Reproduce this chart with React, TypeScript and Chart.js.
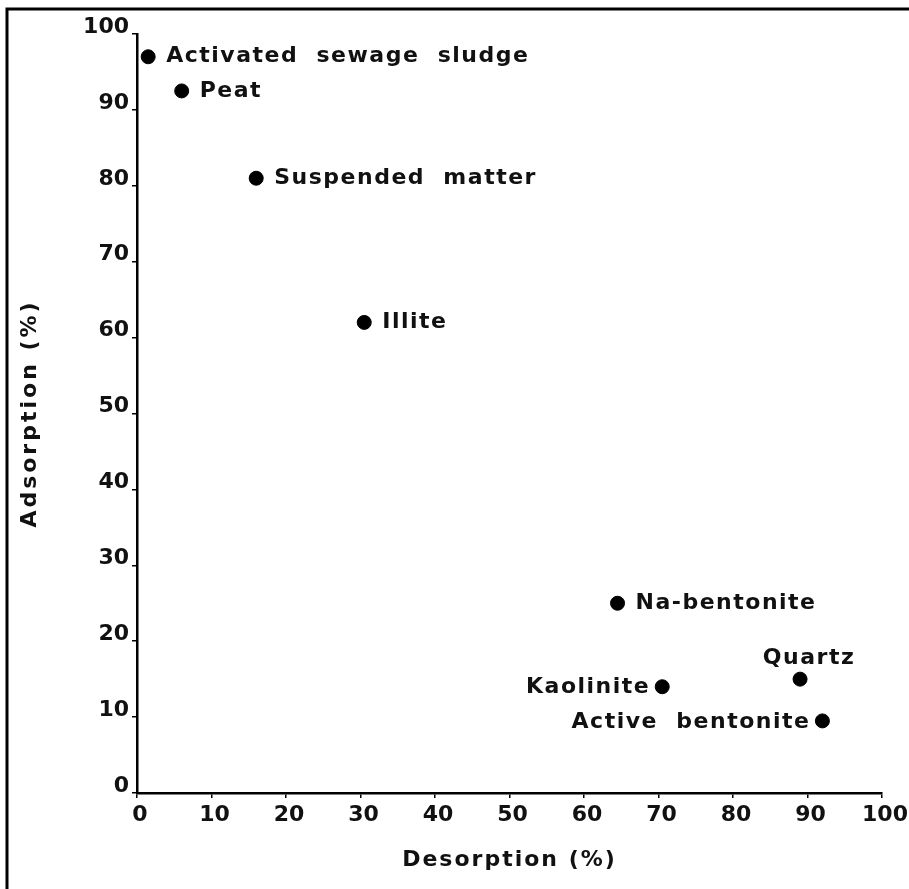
import React, { useEffect, useRef } from "react";
import { Chart, registerables } from "chart.js";

Chart.register(...registerables);

const materials = [
  "Activated  sewage  sludge",
  "Peat",
  "Suspended  matter",
  "Illite",
  "Na-bentonite",
  "Kaolinite",
  "Quartz",
  "Active  bentonite",
];
const desorption = [1.5, 6, 16, 30.5, 64.5, 70.5, 89, 92];
const adsorption = [97, 92.5, 81, 62, 25, 14, 15, 9.5];
const labelSides = ["right", "right", "right", "right", "right", "left", "above", "left"];
const axisTicks = [0, 10, 20, 30, 40, 50, 60, 70, 80, 90, 100];

const FONT = "'DejaVu Sans', 'Liberation Sans', sans-serif";
const W = 909;
const H = 889;

function wrapTitle(chart: any, id: string, spacing: string) {
  const s = chart.scales[id];
  if (!s || s.__wrapped) return;
  const orig = s.drawTitle.bind(s);
  s.drawTitle = () => {
    const ctx = chart.ctx;
    ctx.save();
    ctx.letterSpacing = spacing;
    orig();
    ctx.restore();
  };
  s.__wrapped = true;
}

const framePlugin = {
  id: "frame",
  afterLayout(chart: any) {
    wrapTitle(chart, "x", "2px");
    wrapTitle(chart, "y", "3px");
  },
  beforeDraw(chart: any) {
    const ctx = chart.ctx;
    ctx.save();
    ctx.fillStyle = "#fff";
    ctx.fillRect(0, 0, chart.width, chart.height);
    ctx.restore();
  },
  afterDraw(chart: any) {
    const ctx = chart.ctx;
    ctx.save();
    ctx.strokeStyle = "#000";
    ctx.lineWidth = 3;
    ctx.beginPath();
    ctx.moveTo(7, chart.height);
    ctx.lineTo(7, 9);
    ctx.lineTo(chart.width, 9);
    ctx.stroke();
    ctx.restore();
  },
};

const labelPlugin = {
  id: "pointLabels",
  afterDatasetsDraw(chart: any) {
    const ctx = chart.ctx;
    const meta = chart.getDatasetMeta(0);
    ctx.save();
    ctx.letterSpacing = "1.5px";
    ctx.font = `bold 22px ${FONT}`;
    ctx.fillStyle = "#111";
    meta.data.forEach((pt: any, i: number) => {
      const text = materials[i];
      const side = labelSides[i];
      const x = pt.x;
      const y = pt.y;
      if (side === "right") {
        ctx.textAlign = "left";
        ctx.textBaseline = "middle";
        ctx.fillText(text, x + 18, y);
      } else if (side === "left") {
        ctx.textAlign = "right";
        ctx.textBaseline = "middle";
        ctx.fillText(text, x - 12, y + 1);
      } else {
        ctx.textAlign = "center";
        ctx.textBaseline = "bottom";
        ctx.fillText(text, x + 9, y - 10);
      }
    });
    ctx.restore();
  },
};

export default function App() {
  const ref = useRef<HTMLCanvasElement | null>(null);

  useEffect(() => {
    if (!ref.current) return;
    const points = desorption.map((d, i) => ({ x: d, y: adsorption[i] }));
    const chart = new Chart(ref.current, {
      type: "scatter",
      data: {
        datasets: [
          {
            label: "Materials",
            data: points,
            backgroundColor: "#000",
            borderColor: "#000",
            pointRadius: 7,
            pointHoverRadius: 7,
          },
        ],
      },
      options: {
        responsive: false,
        animation: false,
        events: [],
        layout: { padding: { left: 10, top: 34, right: 27, bottom: 12 } },
        plugins: {
          legend: { display: false },
          tooltip: { enabled: false },
        },
        scales: {
          x: {
            type: "linear",
            min: 0,
            max: 100,
            afterBuildTicks: (scale: any) => {
              scale.ticks = axisTicks.map((v) => ({ value: v }));
            },
            afterFit: (scale: any) => {
              scale.height = H - 12 - 793;
            },
            border: { display: true, color: "#000", width: 2.5 },
            grid: {
              display: true,
              drawOnChartArea: false,
              drawTicks: true,
              tickLength: 5,
              color: "#000",
              lineWidth: 1.5,
            },
            ticks: {
              color: "#111",
              font: { family: FONT, size: 22, weight: "bold" },
              padding: 4,
              maxRotation: 0,
              autoSkip: false,
              labelOffset: 3,
            },
            title: {
              display: true,
              text: "Desorption (%)",
              color: "#111",
              font: { family: FONT, size: 22, weight: "bold" },
              padding: { top: 4, bottom: 4 },
            },
          },
          y: {
            type: "linear",
            min: 0,
            max: 100,
            afterBuildTicks: (scale: any) => {
              scale.ticks = axisTicks.map((v) => ({ value: v }));
            },
            afterFit: (scale: any) => {
              scale.width = 137 - 10;
            },
            border: { display: true, color: "#000", width: 2.5 },
            grid: {
              display: true,
              drawOnChartArea: false,
              drawTicks: true,
              tickLength: 5,
              color: "#000",
              lineWidth: 1.5,
            },
            ticks: {
              color: "#111",
              font: { family: FONT, size: 22, weight: "bold" },
              padding: 3,
              autoSkip: false,
              labelOffset: -7,
            },
            title: {
              display: true,
              text: "Adsorption (%)",
              color: "#111",
              font: { family: FONT, size: 22, weight: "bold" },
              padding: { top: 7, bottom: 4 },
            },
          },
        },
      },
      plugins: [framePlugin, labelPlugin],
    } as any);
    return () => chart.destroy();
  }, []);

  return (
    <div style={{ position: "absolute", left: 0, top: 0, width: W, height: H, background: "#fff" }}>
      <canvas ref={ref} width={W} height={H} style={{ display: "block", width: W, height: H }} />
    </div>
  );
}
